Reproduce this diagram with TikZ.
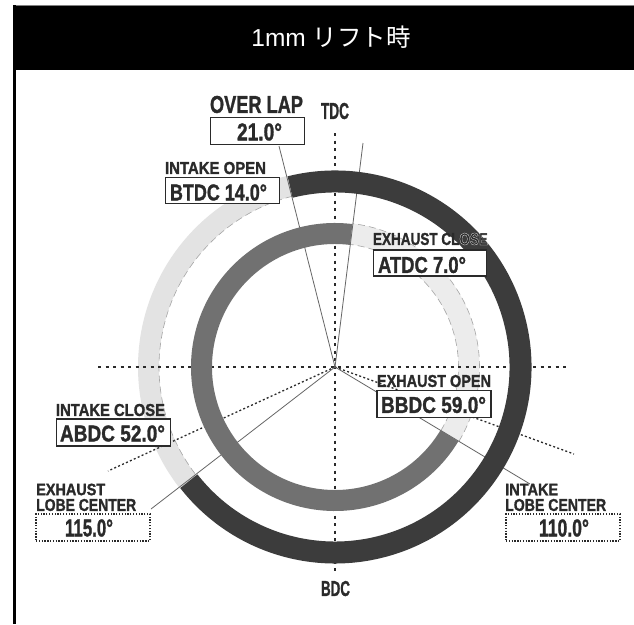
\documentclass[tikz,border=0pt]{standalone}
\usepackage{graphicx}
\usepackage{fontspec}
\setmainfont{Liberation Sans}
\newfontfamily\cjkf{Noto Sans CJK JP}
\newfontfamily\labf{Liberation Sans Bold}[FakeBold=1.4]
\newfontfamily\halof{Liberation Sans Bold}[FakeBold=1.6]
\newcommand{\fitt}[3]{\resizebox{#1pt}{#2pt}{\labf #3}}
\newcommand{\halotext}[1]{{\halof\special{pdf:code 1 1 1 RG}#1\special{pdf:code 0.165 0.165 0.165 RG}}}
\definecolor{ringdark}{HTML}{3C3C3C}
\definecolor{ringmid}{HTML}{717171}
\definecolor{ringlight}{HTML}{E3E3E3}
\definecolor{ringlightb}{HTML}{ECECEC}
\definecolor{inkc}{HTML}{2A2A2A}
\tikzset{
  lab/.style={inner sep=0pt,text=inkc},
  valbox/.style={draw=inkc,line width=1.7pt,fill=white,inner sep=0pt,minimum width=#1,minimum height=26pt},
  lobebox/.style={draw=inkc,line width=1.2pt,dash pattern=on 1.3pt off 1.5pt,fill=white,inner sep=0pt,minimum width=114pt,minimum height=27pt},
  axis/.style={draw=inkc,line width=1.3pt,dash pattern=on 3pt off 4.5pt},
  lobeline/.style={draw=inkc,line width=1.3pt,dash pattern=on 2pt off 2.3pt},
  leader/.style={draw=black!60,line width=0.8pt},
  edgedash/.style={draw=black!35,line width=0.6pt,dash pattern=on 7pt off 4pt}
}
\begin{document}
\begin{tikzpicture}[x=1pt,y=-1pt]
\useasboundingbox (0,0) rectangle (634,624);
\fill[white] (0,0) rectangle (634,624);
% frame
\fill[black] (13,5) rectangle (634,70);
\fill[black] (13,70) rectangle (16,624);
\draw[black!50,line width=0.6pt] (16,5) -- (634,5);
\node[text=white,inner sep=0pt,font=\fontsize{24.5}{26}\selectfont] (title) at (331,37.5) {1mm {\cjkf リフト時}};
\coordinate (C) at (335,367);
\coordinate (axL) at (98,367);
\coordinate (axR) at (570,367);
\coordinate (axT) at (335,133);
\coordinate (axB) at (335,572);
\coordinate (ovL) at (279,146);
\coordinate (ovR) at (363,143);
\coordinate (exO) at (530,484);
\coordinate (inC) at (151,509);
\coordinate (lobL) at (108,471);
\coordinate (lobR) at (574,454);
% light rings
\begin{scope}[shift={(335,367)},x=1pt,y=1pt]
\draw[ringlight,line width=21pt] (104:186.5) arc[start angle=104,end angle=218,radius=186.5];
\draw[edgedash] (104:176) arc[start angle=104,end angle=218,radius=176];
\draw[ringlightb,line width=21pt] (-31:134) arc[start angle=-31,end angle=83,radius=134];
\draw[edgedash] (-31:144.5) arc[start angle=-31,end angle=83,radius=144.5];
\draw[edgedash] (-31:123.5) arc[start angle=-31,end angle=83,radius=123.5];
\end{scope}
% lines
\draw[axis] (axL) -- (axR);
\draw[axis] (axT) -- (axB);
\draw[lobeline] (C) -- (lobL);
\draw[lobeline] (C) -- (lobR);
\draw[leader] (C) -- (ovL);
\draw[leader] (C) -- (ovR);
\draw[leader] (C) -- (exO);
\draw[leader] (C) -- (inC);
% dark rings
\begin{scope}[shift={(335,367)},x=1pt,y=1pt]
\draw[ringdark,line width=22pt] (104:185.5) arc[start angle=104,end angle=-142,radius=185.5];
\draw[ringmid,line width=21pt] (83:133.5) arc[start angle=83,end angle=329,radius=133.5];
\end{scope}
% labels
\node[lab] (tdc) at (335,111) {\fitt{28}{16}{TDC}};
\node[lab] (bdc) at (335.5,588.5) {\fitt{29}{15}{BDC}};
\node[lab] (ovlab) at (256.5,104.5) {\fitt{93}{17}{OVER LAP}};
\node[valbox=94pt,minimum height=27pt] (ovbox) at (257.5,131) {};
\node[lab] (ovval) at (259.5,132) {\fitt{45}{17}{21.0°}};
\node[lab] (iolab) at (215.5,168) {\fitt{101}{12}{INTAKE OPEN}};
\node[valbox=114pt] (iobox) at (222.5,190.5) {};
\node[lab] (ioval) at (218.5,192.5) {\fitt{97}{16}{BTDC 14.0°}};
\node[lab] (eclab) at (430.5,239) {\fitt{115}{12}{EXHAUST CL\halotext{OSE}}};
\node[valbox=113pt] (ecbox) at (430,263) {};
\node[lab] (ecval) at (422,265) {\fitt{88}{16}{ATDC 7.0°}};
\node[lab] (eolab) at (434,381) {\fitt{114}{12}{EXHAUST OPEN}};
\node[valbox=114pt,minimum height=27pt] (eobox) at (434,404) {};
\node[lab] (eoval) at (433.5,405) {\fitt{105}{16}{BBDC 59.0°}};
\node[lab] (iclab) at (110.5,410) {\fitt{109}{12}{INTAKE CLOSE}};
\node[valbox=114pt,minimum height=27pt] (icbox) at (113.5,432.5) {};
\node[lab] (icval) at (112.5,433.5) {\fitt{105}{16}{ABDC 52.0°}};
\node[lab,anchor=west] (ellab1) at (36,489.5) {\fitt{69}{11.5}{EXHAUST}};
\node[lab,anchor=west] (ellab2) at (36,505) {\fitt{100}{12}{LOBE CENTER}};
\node[lobebox] (elbox) at (93,527.5) {};
\node[lab] (elval) at (89,528) {\fitt{48}{17}{115.0°}};
\node[lab,anchor=west] (illab1) at (505,489.5) {\fitt{53}{11.5}{INTAKE}};
\node[lab,anchor=west] (illab2) at (505,505) {\fitt{101}{12}{LOBE CENTER}};
\node[lobebox] (ilbox) at (563,527.5) {};
\node[lab] (ilval) at (564,528) {\fitt{50}{17}{110.0°}};
\end{tikzpicture}
\end{document}
